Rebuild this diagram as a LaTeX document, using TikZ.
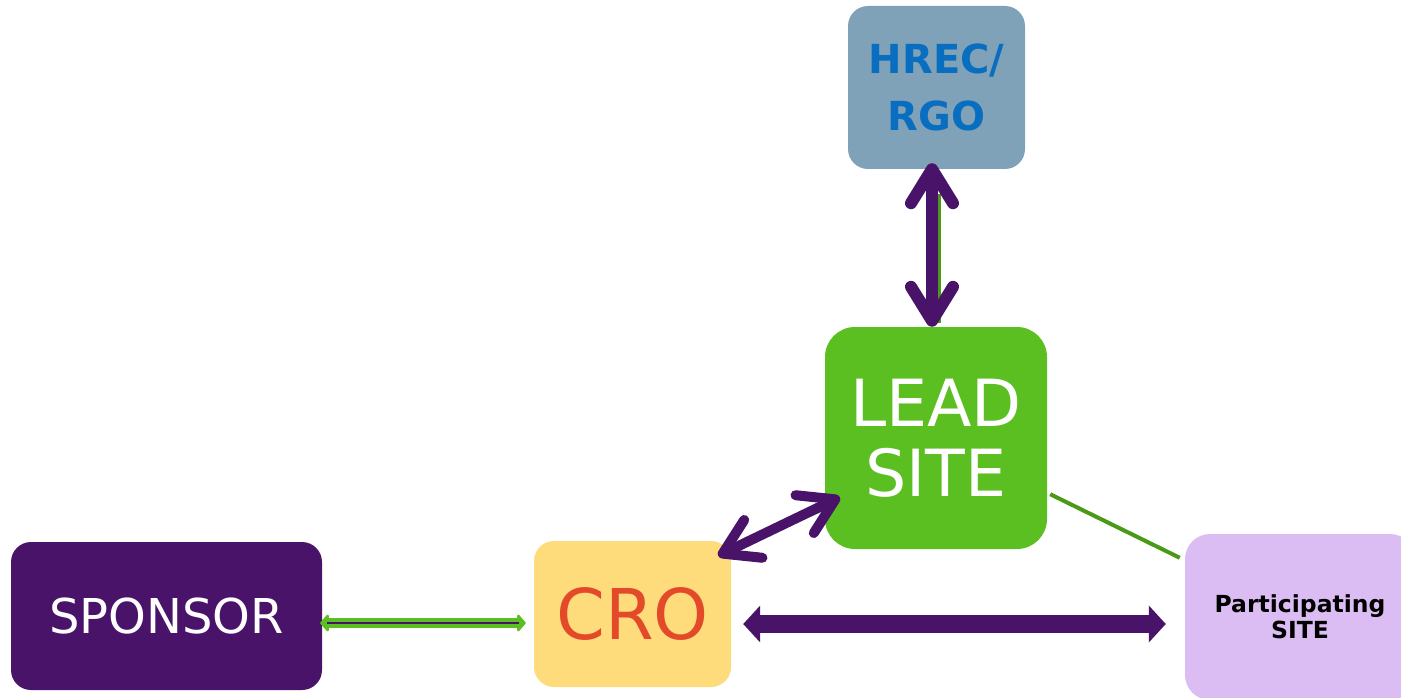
\documentclass[tikz,border=0pt]{standalone}
\usepackage{fontspec}
\setmainfont{DejaVu Sans}
\usetikzlibrary{arrows.meta}
\definecolor{deeppurple}{HTML}{4A136A}
\definecolor{leafgreen}{HTML}{5BBF21}
\definecolor{darkgreen}{HTML}{4A9A18}
\definecolor{slateblue}{HTML}{80A2B8}
\definecolor{hrectext}{HTML}{0A6EC0}
\definecolor{croyellow}{HTML}{FEDC7B}
\definecolor{crotext}{HTML}{E34A2A}
\definecolor{lilac}{HTML}{DCBDF3}
\begin{document}
\begin{tikzpicture}[x=1pt,y=-1pt,
  box/.style={inner sep=0pt, align=center},
  barbarrow/.style={draw=deeppurple, line width=#1, line cap=round,
    {Straight Barb[round, length=34pt, width=42pt]}-{Straight Barb[round, length=34pt, width=42pt]}},
  linkline/.style={draw=darkgreen, line width=4pt},
  thinlink/.style={draw=darkgreen, line width=3pt},
  fatarrow/.style={draw=deeppurple, line width=18pt,
    {Triangle[length=17pt, width=36pt]}-{Triangle[length=17pt, width=36pt]}},
  greenarrow/.style={draw=leafgreen, line width=10pt,
    {Triangle[round, length=9pt, width=20pt]}-{Triangle[round, length=9pt, width=20pt]}},
  coreline/.style={draw=deeppurple, line width=2.5pt}]
\useasboundingbox (0,0) rectangle (1401,698);

% boxes
\node[box, fill=slateblue, rounded corners=20pt, minimum width=177pt, minimum height=163pt,
  text=hrectext, font=\fontsize{40}{57}\selectfont\bfseries] (hrec) at (936.5,87.5) {HREC/\\RGO};
\node[box, fill=leafgreen, rounded corners=30pt, minimum width=222pt, minimum height=222pt,
  text=white, font=\fontsize{65}{70}\selectfont] (lead) at (936,438) {LEAD\\SITE};
\node[box, fill=deeppurple, rounded corners=20pt, minimum width=311pt, minimum height=148pt,
  text=white, font=\fontsize{48}{56}\selectfont] (sponsor) at (166.5,616) {SPONSOR};
\node[box, fill=croyellow, rounded corners=20pt, minimum width=197pt, minimum height=146pt,
  text=crotext, font=\fontsize{70}{80}\selectfont] (cro) at (632.5,614) {CRO};
\node[box, fill=lilac, rounded corners=25pt, minimum width=230pt, minimum height=166pt,
  text=black, font=\fontsize{23.5}{26}\selectfont\bfseries] (site) at (1300,617) {Participating\\SITE};

% plain links
\draw[thinlink] ([shift={(2.5,25)}]hrec.south) -- ([shift={(3,-4)}]lead.north);
\draw[thinlink] ([shift={(-8,13)}]cro.north east) -- ([shift={(8,-44)}]lead.south west);
\draw[linkline] ([shift={(3,-55)}]lead.south east) -- ([shift={(-5,24)}]site.north west);

% arrows
\draw[barbarrow=12pt] ([shift={(-4.5,-6)}]hrec.south) -- ([shift={(-4,0)}]lead.north);
\draw[barbarrow=10pt] ([shift={(-13,15)}]cro.north east) -- ([shift={(15,-52)}]lead.south west);
\draw[fatarrow] ([shift={(12,10)}]cro.east) -- ([shift={(-19,7)}]site.west);
\draw[greenarrow] ([shift={(-2,7)}]sponsor.east) -- ([shift={(-8,9)}]cro.west);
\draw[coreline] ([shift={(5,7)}]sponsor.east) -- ([shift={(-15,9)}]cro.west);
\end{tikzpicture}
\end{document}
